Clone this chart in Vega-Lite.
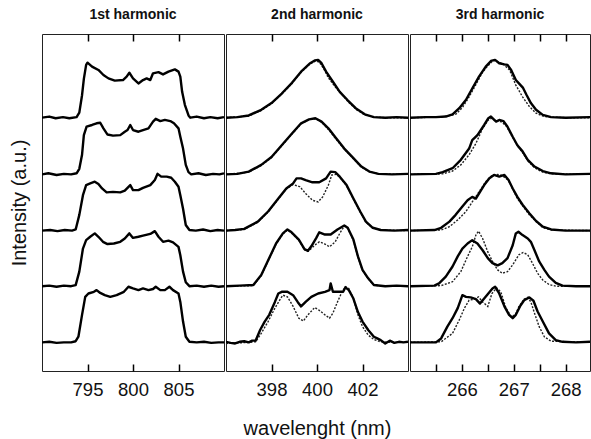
{
"$schema": "https://vega.github.io/schema/vega-lite/v6.json",
"padding": {"left": 8, "top": 7, "right": 0, "bottom": 0},
"spacing": 0,
"config": {
  "font": "Liberation Sans",
  "view": {"stroke": "#222", "strokeWidth": 1},
  "axis": {"grid": false, "domain": false, "ticks": true, "tickSize": 7, "tickWidth": 1.5, "tickColor": "#000", "tickOpacity": 1, "labelFont": "Liberation Sans", "labelFontSize": 18.5, "labelColor": "#111", "titleFont": "Liberation Sans", "titleFontWeight": "normal", "titleFontSize": 20, "titleColor": "#111", "labelOverlap": false, "labelFlush": false},
  "title": {"font": "Liberation Sans", "fontSize": 14, "fontWeight": "bold", "color": "#111", "offset": 11}
},
"datasets": {
"p1": [
{"t":1,"x":790,"y":4.51},{"t":1,"x":790.8,"y":4.53},{"t":1,"x":791.5,"y":4.5},{"t":1,"x":792.3,"y":4.52},{"t":1,"x":793,"y":4.5},{"t":1,"x":793.8,"y":4.52},{"t":1,"x":794.1,"y":4.6},{"t":1,"x":794.4,"y":4.91},{"t":1,"x":794.6,"y":5.2},{"t":1,"x":794.85,"y":5.45},{"t":1,"x":795,"y":5.49},{"t":1,"x":795.5,"y":5.42},{"t":1,"x":796.2,"y":5.36},{"t":1,"x":796.75,"y":5.27},{"t":1,"x":797.3,"y":5.21},{"t":1,"x":798,"y":5.17},{"t":1,"x":798.9,"y":5.18},{"t":1,"x":799.3,"y":5.24},{"t":1,"x":799.6,"y":5.31},{"t":1,"x":800,"y":5.21},{"t":1,"x":800.6,"y":5.12},{"t":1,"x":801.1,"y":5.18},{"t":1,"x":801.5,"y":5.21},{"t":1,"x":801.9,"y":5.18},{"t":1,"x":802.2,"y":5.3},{"t":1,"x":802.8,"y":5.32},{"t":1,"x":803.3,"y":5.28},{"t":1,"x":803.9,"y":5.33},{"t":1,"x":804.6,"y":5.37},{"t":1,"x":805,"y":5.33},{"t":1,"x":805.2,"y":5.24},{"t":1,"x":805.4,"y":4.97},{"t":1,"x":805.7,"y":4.74},{"t":1,"x":806.1,"y":4.55},{"t":1,"x":806.3,"y":4.51},{"t":1,"x":807,"y":4.53},{"t":1,"x":807.8,"y":4.5},{"t":1,"x":808.5,"y":4.52},{"t":1,"x":809.3,"y":4.5},{"t":1,"x":810,"y":4.52},
{"t":2,"x":790,"y":3.5},{"t":2,"x":790.7,"y":3.52},{"t":2,"x":791.6,"y":3.49},{"t":2,"x":792.4,"y":3.51},{"t":2,"x":793.2,"y":3.5},{"t":2,"x":793.8,"y":3.52},{"t":2,"x":794.1,"y":3.6},{"t":2,"x":794.4,"y":3.85},{"t":2,"x":794.6,"y":4.2},{"t":2,"x":794.9,"y":4.35},{"t":2,"x":795.5,"y":4.38},{"t":2,"x":796,"y":4.41},{"t":2,"x":796.4,"y":4.42},{"t":2,"x":796.75,"y":4.32},{"t":2,"x":797.2,"y":4.21},{"t":2,"x":797.8,"y":4.19},{"t":2,"x":798.6,"y":4.2},{"t":2,"x":799.1,"y":4.26},{"t":2,"x":799.4,"y":4.29},{"t":2,"x":799.7,"y":4.38},{"t":2,"x":800,"y":4.29},{"t":2,"x":800.6,"y":4.26},{"t":2,"x":801.1,"y":4.29},{"t":2,"x":801.7,"y":4.32},{"t":2,"x":802.2,"y":4.44},{"t":2,"x":802.5,"y":4.49},{"t":2,"x":803,"y":4.45},{"t":2,"x":803.5,"y":4.47},{"t":2,"x":804.1,"y":4.45},{"t":2,"x":804.5,"y":4.41},{"t":2,"x":805,"y":4.32},{"t":2,"x":805.2,"y":4.17},{"t":2,"x":805.5,"y":3.96},{"t":2,"x":805.8,"y":3.67},{"t":2,"x":806.1,"y":3.54},{"t":2,"x":806.4,"y":3.5},{"t":2,"x":807.2,"y":3.52},{"t":2,"x":808,"y":3.49},{"t":2,"x":808.8,"y":3.51},{"t":2,"x":809.5,"y":3.5},{"t":2,"x":810,"y":3.52},
{"t":3,"x":790,"y":2.5},{"t":3,"x":790.9,"y":2.51},{"t":3,"x":791.7,"y":2.49},{"t":3,"x":792.5,"y":2.51},{"t":3,"x":793.3,"y":2.5},{"t":3,"x":793.7,"y":2.52},{"t":3,"x":794.1,"y":2.78},{"t":3,"x":794.5,"y":3.13},{"t":3,"x":794.85,"y":3.31},{"t":3,"x":795.3,"y":3.34},{"t":3,"x":795.8,"y":3.37},{"t":3,"x":796.2,"y":3.33},{"t":3,"x":796.6,"y":3.25},{"t":3,"x":797.1,"y":3.18},{"t":3,"x":797.8,"y":3.19},{"t":3,"x":798.6,"y":3.18},{"t":3,"x":799.1,"y":3.21},{"t":3,"x":799.7,"y":3.31},{"t":3,"x":800,"y":3.22},{"t":3,"x":800.6,"y":3.22},{"t":3,"x":801.1,"y":3.26},{"t":3,"x":801.9,"y":3.31},{"t":3,"x":802.4,"y":3.4},{"t":3,"x":802.7,"y":3.51},{"t":3,"x":803.1,"y":3.46},{"t":3,"x":803.7,"y":3.46},{"t":3,"x":804.2,"y":3.44},{"t":3,"x":804.6,"y":3.37},{"t":3,"x":805,"y":3.28},{"t":3,"x":805.2,"y":3.13},{"t":3,"x":805.5,"y":2.89},{"t":3,"x":805.8,"y":2.6},{"t":3,"x":806.2,"y":2.51},{"t":3,"x":806.9,"y":2.5},{"t":3,"x":807.7,"y":2.52},{"t":3,"x":808.5,"y":2.49},{"t":3,"x":809.3,"y":2.51},{"t":3,"x":810,"y":2.5},
{"t":4,"x":790,"y":1.51},{"t":4,"x":790.8,"y":1.52},{"t":4,"x":791.6,"y":1.5},{"t":4,"x":792.4,"y":1.52},{"t":4,"x":793.2,"y":1.51},{"t":4,"x":793.7,"y":1.53},{"t":4,"x":794.1,"y":1.77},{"t":4,"x":794.5,"y":2.18},{"t":4,"x":794.85,"y":2.33},{"t":4,"x":795.3,"y":2.39},{"t":4,"x":795.8,"y":2.45},{"t":4,"x":796.2,"y":2.39},{"t":4,"x":796.7,"y":2.3},{"t":4,"x":797.2,"y":2.26},{"t":4,"x":797.9,"y":2.27},{"t":4,"x":798.6,"y":2.3},{"t":4,"x":799.1,"y":2.36},{"t":4,"x":799.6,"y":2.45},{"t":4,"x":800,"y":2.37},{"t":4,"x":800.6,"y":2.39},{"t":4,"x":801.1,"y":2.41},{"t":4,"x":801.9,"y":2.44},{"t":4,"x":802.4,"y":2.49},{"t":4,"x":802.8,"y":2.39},{"t":4,"x":803.3,"y":2.3},{"t":4,"x":803.9,"y":2.32},{"t":4,"x":804.4,"y":2.29},{"t":4,"x":805,"y":2.21},{"t":4,"x":805.2,"y":2.06},{"t":4,"x":805.5,"y":1.77},{"t":4,"x":805.8,"y":1.58},{"t":4,"x":806.2,"y":1.51},{"t":4,"x":807,"y":1.52},{"t":4,"x":807.8,"y":1.5},{"t":4,"x":808.6,"y":1.52},{"t":4,"x":809.4,"y":1.5},{"t":4,"x":810,"y":1.51},
{"t":5,"x":790,"y":0.51},{"t":5,"x":790.8,"y":0.52},{"t":5,"x":791.6,"y":0.5},{"t":5,"x":792.4,"y":0.51},{"t":5,"x":793.2,"y":0.51},{"t":5,"x":793.7,"y":0.53},{"t":5,"x":794,"y":0.61},{"t":5,"x":794.4,"y":1},{"t":5,"x":794.75,"y":1.32},{"t":5,"x":795.1,"y":1.38},{"t":5,"x":795.7,"y":1.41},{"t":5,"x":796,"y":1.44},{"t":5,"x":796.4,"y":1.39},{"t":5,"x":796.9,"y":1.35},{"t":5,"x":797.5,"y":1.32},{"t":5,"x":798.2,"y":1.35},{"t":5,"x":799,"y":1.41},{"t":5,"x":799.5,"y":1.5},{"t":5,"x":800,"y":1.47},{"t":5,"x":800.6,"y":1.44},{"t":5,"x":801.1,"y":1.47},{"t":5,"x":801.7,"y":1.44},{"t":5,"x":802.2,"y":1.46},{"t":5,"x":802.5,"y":1.5},{"t":5,"x":803,"y":1.44},{"t":5,"x":803.5,"y":1.44},{"t":5,"x":804,"y":1.5},{"t":5,"x":804.4,"y":1.44},{"t":5,"x":805,"y":1.38},{"t":5,"x":805.2,"y":1.23},{"t":5,"x":805.5,"y":0.88},{"t":5,"x":805.8,"y":0.61},{"t":5,"x":806.2,"y":0.52},{"t":5,"x":807,"y":0.51},{"t":5,"x":807.8,"y":0.52},{"t":5,"x":808.6,"y":0.5},{"t":5,"x":809.4,"y":0.51},{"t":5,"x":810,"y":0.51}
],
"p2s": [
{"t":1,"x":396,"y":4.51},{"t":1,"x":396.5,"y":4.52},{"t":1,"x":397,"y":4.55},{"t":1,"x":397.55,"y":4.65},{"t":1,"x":398,"y":4.77},{"t":1,"x":398.45,"y":4.94},{"t":1,"x":398.9,"y":5.13},{"t":1,"x":399.3,"y":5.33},{"t":1,"x":399.7,"y":5.48},{"t":1,"x":399.9,"y":5.53},{"t":1,"x":400.05,"y":5.54},{"t":1,"x":400.2,"y":5.48},{"t":1,"x":400.4,"y":5.33},{"t":1,"x":400.7,"y":5.15},{"t":1,"x":401,"y":4.97},{"t":1,"x":401.35,"y":4.82},{"t":1,"x":401.7,"y":4.68},{"t":1,"x":402.1,"y":4.57},{"t":1,"x":402.5,"y":4.52},{"t":1,"x":403,"y":4.51},{"t":1,"x":403.5,"y":4.52},{"t":1,"x":404,"y":4.51},
{"t":2,"x":396,"y":3.5},{"t":2,"x":396.5,"y":3.51},{"t":2,"x":397,"y":3.55},{"t":2,"x":397.55,"y":3.67},{"t":2,"x":398,"y":3.81},{"t":2,"x":398.45,"y":4.02},{"t":2,"x":398.9,"y":4.23},{"t":2,"x":399.3,"y":4.41},{"t":2,"x":399.65,"y":4.48},{"t":2,"x":399.93,"y":4.5},{"t":2,"x":400.2,"y":4.44},{"t":2,"x":400.5,"y":4.32},{"t":2,"x":400.85,"y":4.14},{"t":2,"x":401.2,"y":3.96},{"t":2,"x":401.6,"y":3.79},{"t":2,"x":401.95,"y":3.64},{"t":2,"x":402.3,"y":3.55},{"t":2,"x":402.7,"y":3.51},{"t":2,"x":403.3,"y":3.5},{"t":2,"x":404,"y":3.51},
{"t":3,"x":396,"y":2.5},{"t":3,"x":396.4,"y":2.51},{"t":3,"x":396.8,"y":2.53},{"t":3,"x":397.4,"y":2.66},{"t":3,"x":397.85,"y":2.84},{"t":3,"x":398.3,"y":3.07},{"t":3,"x":398.65,"y":3.25},{"t":3,"x":398.95,"y":3.34},{"t":3,"x":399.1,"y":3.43},{"t":3,"x":399.3,"y":3.43},{"t":3,"x":399.5,"y":3.4},{"t":3,"x":399.8,"y":3.36},{"t":3,"x":400.1,"y":3.36},{"t":3,"x":400.4,"y":3.43},{"t":3,"x":400.6,"y":3.55},{"t":3,"x":400.8,"y":3.54},{"t":3,"x":401,"y":3.46},{"t":3,"x":401.3,"y":3.31},{"t":3,"x":401.6,"y":3.07},{"t":3,"x":401.9,"y":2.84},{"t":3,"x":402.15,"y":2.66},{"t":3,"x":402.45,"y":2.55},{"t":3,"x":402.8,"y":2.51},{"t":3,"x":403.4,"y":2.5},{"t":3,"x":404,"y":2.51},
{"t":4,"x":396,"y":1.51},{"t":4,"x":396.6,"y":1.52},{"t":4,"x":397.2,"y":1.53},{"t":4,"x":397.55,"y":1.71},{"t":4,"x":397.9,"y":2.01},{"t":4,"x":398.2,"y":2.27},{"t":4,"x":398.5,"y":2.45},{"t":4,"x":398.7,"y":2.52},{"t":4,"x":398.85,"y":2.48},{"t":4,"x":399.2,"y":2.34},{"t":4,"x":399.45,"y":2.17},{"t":4,"x":399.6,"y":2.14},{"t":4,"x":399.75,"y":2.22},{"t":4,"x":399.97,"y":2.37},{"t":4,"x":400.1,"y":2.47},{"t":4,"x":400.35,"y":2.43},{"t":4,"x":400.6,"y":2.43},{"t":4,"x":400.9,"y":2.52},{"t":4,"x":401.2,"y":2.59},{"t":4,"x":401.35,"y":2.55},{"t":4,"x":401.6,"y":2.34},{"t":4,"x":401.8,"y":2.04},{"t":4,"x":402,"y":1.8},{"t":4,"x":402.25,"y":1.65},{"t":4,"x":402.5,"y":1.53},{"t":4,"x":403,"y":1.51},{"t":4,"x":403.5,"y":1.52},{"t":4,"x":404,"y":1.51},
{"t":5,"x":396,"y":0.52},{"t":5,"x":396.2,"y":0.5},{"t":5,"x":396.4,"y":0.49},{"t":5,"x":396.6,"y":0.52},{"t":5,"x":396.8,"y":0.53},{"t":5,"x":397,"y":0.51},{"t":5,"x":397.15,"y":0.54},{"t":5,"x":397.3,"y":0.54},{"t":5,"x":397.5,"y":0.73},{"t":5,"x":397.7,"y":0.88},{"t":5,"x":397.9,"y":1},{"t":5,"x":398.15,"y":1.23},{"t":5,"x":398.3,"y":1.38},{"t":5,"x":398.45,"y":1.41},{"t":5,"x":398.7,"y":1.41},{"t":5,"x":398.95,"y":1.35},{"t":5,"x":399.15,"y":1.23},{"t":5,"x":399.3,"y":1.15},{"t":5,"x":399.5,"y":1.23},{"t":5,"x":399.75,"y":1.32},{"t":5,"x":400.05,"y":1.38},{"t":5,"x":400.35,"y":1.41},{"t":5,"x":400.55,"y":1.44},{"t":5,"x":400.6,"y":1.56},{"t":5,"x":400.7,"y":1.41},{"t":5,"x":400.9,"y":1.41},{"t":5,"x":401.15,"y":1.41},{"t":5,"x":401.25,"y":1.49},{"t":5,"x":401.4,"y":1.44},{"t":5,"x":401.6,"y":1.29},{"t":5,"x":401.8,"y":1.05},{"t":5,"x":402,"y":0.88},{"t":5,"x":402.25,"y":0.73},{"t":5,"x":402.5,"y":0.61},{"t":5,"x":402.65,"y":0.58},{"t":5,"x":402.8,"y":0.55},{"t":5,"x":403,"y":0.49},{"t":5,"x":403.2,"y":0.54},{"t":5,"x":403.4,"y":0.5},{"t":5,"x":403.6,"y":0.52},{"t":5,"x":403.8,"y":0.51},{"t":5,"x":404,"y":0.52}
],
"p2d": [
{"t":1,"x":396,"y":4.51},{"t":1,"x":397,"y":4.54},{"t":1,"x":397.55,"y":4.64},{"t":1,"x":398,"y":4.76},{"t":1,"x":398.45,"y":4.93},{"t":1,"x":398.9,"y":5.12},{"t":1,"x":399.3,"y":5.32},{"t":1,"x":399.7,"y":5.47},{"t":1,"x":399.95,"y":5.52},{"t":1,"x":400.1,"y":5.5},{"t":1,"x":400.3,"y":5.38},{"t":1,"x":400.5,"y":5.22},{"t":1,"x":400.8,"y":5.06},{"t":1,"x":401.1,"y":4.92},{"t":1,"x":401.4,"y":4.78},{"t":1,"x":401.75,"y":4.65},{"t":1,"x":402.1,"y":4.56},{"t":1,"x":402.5,"y":4.52},{"t":1,"x":403,"y":4.51},{"t":1,"x":404,"y":4.51},
{"t":2,"x":396,"y":3.5},{"t":2,"x":397,"y":3.54},{"t":2,"x":397.55,"y":3.66},{"t":2,"x":398,"y":3.8},{"t":2,"x":398.45,"y":4.01},{"t":2,"x":398.9,"y":4.22},{"t":2,"x":399.3,"y":4.4},{"t":2,"x":399.65,"y":4.48},{"t":2,"x":399.95,"y":4.49},{"t":2,"x":400.2,"y":4.43},{"t":2,"x":400.5,"y":4.3},{"t":2,"x":400.85,"y":4.12},{"t":2,"x":401.2,"y":3.95},{"t":2,"x":401.6,"y":3.78},{"t":2,"x":401.95,"y":3.63},{"t":2,"x":402.3,"y":3.55},{"t":2,"x":402.7,"y":3.51},{"t":2,"x":404,"y":3.5},
{"t":3,"x":396,"y":2.5},{"t":3,"x":396.8,"y":2.52},{"t":3,"x":397.4,"y":2.65},{"t":3,"x":397.85,"y":2.83},{"t":3,"x":398.3,"y":3.06},{"t":3,"x":398.65,"y":3.24},{"t":3,"x":398.95,"y":3.32},{"t":3,"x":399.25,"y":3.28},{"t":3,"x":399.5,"y":3.16},{"t":3,"x":399.8,"y":3.04},{"t":3,"x":400.05,"y":3.01},{"t":3,"x":400.25,"y":3.1},{"t":3,"x":400.5,"y":3.31},{"t":3,"x":400.65,"y":3.49},{"t":3,"x":400.85,"y":3.5},{"t":3,"x":401,"y":3.45},{"t":3,"x":401.3,"y":3.3},{"t":3,"x":401.6,"y":3.06},{"t":3,"x":401.9,"y":2.83},{"t":3,"x":402.15,"y":2.65},{"t":3,"x":402.45,"y":2.55},{"t":3,"x":402.8,"y":2.51},{"t":3,"x":404,"y":2.5},
{"t":4,"x":396,"y":1.51},{"t":4,"x":397.2,"y":1.52},{"t":4,"x":397.55,"y":1.7},{"t":4,"x":397.9,"y":2},{"t":4,"x":398.2,"y":2.26},{"t":4,"x":398.5,"y":2.44},{"t":4,"x":398.7,"y":2.51},{"t":4,"x":398.85,"y":2.47},{"t":4,"x":399.2,"y":2.33},{"t":4,"x":399.45,"y":2.16},{"t":4,"x":399.6,"y":2.13},{"t":4,"x":399.75,"y":2.18},{"t":4,"x":399.9,"y":2.24},{"t":4,"x":400.1,"y":2.3},{"t":4,"x":400.35,"y":2.26},{"t":4,"x":400.55,"y":2.21},{"t":4,"x":400.8,"y":2.3},{"t":4,"x":401,"y":2.45},{"t":4,"x":401.2,"y":2.58},{"t":4,"x":401.35,"y":2.54},{"t":4,"x":401.6,"y":2.33},{"t":4,"x":401.8,"y":2.03},{"t":4,"x":402,"y":1.79},{"t":4,"x":402.25,"y":1.64},{"t":4,"x":402.5,"y":1.53},{"t":4,"x":403,"y":1.51},{"t":4,"x":404,"y":1.51},
{"t":5,"x":396,"y":0.49},{"t":5,"x":396.5,"y":0.5},{"t":5,"x":397,"y":0.51},{"t":5,"x":397.3,"y":0.52},{"t":5,"x":397.55,"y":0.67},{"t":5,"x":397.85,"y":0.88},{"t":5,"x":398.15,"y":1.12},{"t":5,"x":398.4,"y":1.29},{"t":5,"x":398.5,"y":1.35},{"t":5,"x":398.7,"y":1.32},{"t":5,"x":398.95,"y":1.15},{"t":5,"x":399.2,"y":0.94},{"t":5,"x":399.4,"y":0.89},{"t":5,"x":399.6,"y":1},{"t":5,"x":399.9,"y":1.13},{"t":5,"x":400.1,"y":1.08},{"t":5,"x":400.35,"y":1},{"t":5,"x":400.55,"y":0.94},{"t":5,"x":400.7,"y":1.03},{"t":5,"x":400.9,"y":1.23},{"t":5,"x":401.1,"y":1.41},{"t":5,"x":401.25,"y":1.5},{"t":5,"x":401.4,"y":1.47},{"t":5,"x":401.6,"y":1.29},{"t":5,"x":401.8,"y":1},{"t":5,"x":402,"y":0.79},{"t":5,"x":402.25,"y":0.64},{"t":5,"x":402.5,"y":0.56},{"t":5,"x":402.8,"y":0.52},{"t":5,"x":403.3,"y":0.51},{"t":5,"x":404,"y":0.51}
],
"p3s": [
{"t":1,"x":265,"y":4.51},{"t":1,"x":265.3,"y":4.52},{"t":1,"x":265.5,"y":4.52},{"t":1,"x":265.69,"y":4.53},{"t":1,"x":265.82,"y":4.57},{"t":1,"x":265.95,"y":4.68},{"t":1,"x":266.08,"y":4.83},{"t":1,"x":266.2,"y":5.03},{"t":1,"x":266.33,"y":5.24},{"t":1,"x":266.46,"y":5.42},{"t":1,"x":266.56,"y":5.52},{"t":1,"x":266.64,"y":5.54},{"t":1,"x":266.72,"y":5.48},{"t":1,"x":266.82,"y":5.46},{"t":1,"x":266.88,"y":5.45},{"t":1,"x":266.95,"y":5.36},{"t":1,"x":267.04,"y":5.18},{"t":1,"x":267.1,"y":5.12},{"t":1,"x":267.18,"y":5.04},{"t":1,"x":267.25,"y":4.91},{"t":1,"x":267.33,"y":4.77},{"t":1,"x":267.43,"y":4.65},{"t":1,"x":267.56,"y":4.56},{"t":1,"x":267.72,"y":4.52},{"t":1,"x":268,"y":4.51},{"t":1,"x":268.47,"y":4.52},
{"t":2,"x":265,"y":3.5},{"t":2,"x":265.5,"y":3.51},{"t":2,"x":265.63,"y":3.54},{"t":2,"x":265.82,"y":3.61},{"t":2,"x":265.98,"y":3.76},{"t":2,"x":266.14,"y":3.96},{"t":2,"x":266.2,"y":4.11},{"t":2,"x":266.3,"y":4.2},{"t":2,"x":266.43,"y":4.38},{"t":2,"x":266.51,"y":4.5},{"t":2,"x":266.56,"y":4.53},{"t":2,"x":266.66,"y":4.44},{"t":2,"x":266.72,"y":4.47},{"t":2,"x":266.8,"y":4.45},{"t":2,"x":266.88,"y":4.35},{"t":2,"x":266.98,"y":4.17},{"t":2,"x":267.07,"y":4.02},{"t":2,"x":267.17,"y":3.91},{"t":2,"x":267.27,"y":3.76},{"t":2,"x":267.4,"y":3.64},{"t":2,"x":267.56,"y":3.56},{"t":2,"x":267.72,"y":3.52},{"t":2,"x":268,"y":3.5},{"t":2,"x":268.47,"y":3.51},
{"t":3,"x":265,"y":2.5},{"t":3,"x":265.47,"y":2.51},{"t":3,"x":265.6,"y":2.55},{"t":3,"x":265.76,"y":2.66},{"t":3,"x":265.88,"y":2.78},{"t":3,"x":266.01,"y":2.93},{"t":3,"x":266.11,"y":3.04},{"t":3,"x":266.2,"y":3.1},{"t":3,"x":266.27,"y":3.07},{"t":3,"x":266.35,"y":3.19},{"t":3,"x":266.43,"y":3.31},{"t":3,"x":266.53,"y":3.43},{"t":3,"x":266.62,"y":3.49},{"t":3,"x":266.72,"y":3.46},{"t":3,"x":266.82,"y":3.49},{"t":3,"x":266.9,"y":3.4},{"t":3,"x":266.98,"y":3.25},{"t":3,"x":267.07,"y":3.1},{"t":3,"x":267.17,"y":2.96},{"t":3,"x":267.3,"y":2.81},{"t":3,"x":267.43,"y":2.67},{"t":3,"x":267.56,"y":2.57},{"t":3,"x":267.72,"y":2.52},{"t":3,"x":268,"y":2.5},{"t":3,"x":268.47,"y":2.5},
{"t":4,"x":265,"y":1.51},{"t":4,"x":265.47,"y":1.52},{"t":4,"x":265.56,"y":1.56},{"t":4,"x":265.69,"y":1.68},{"t":4,"x":265.82,"y":1.86},{"t":4,"x":265.92,"y":2.04},{"t":4,"x":266.01,"y":2.18},{"t":4,"x":266.11,"y":2.27},{"t":4,"x":266.2,"y":2.33},{"t":4,"x":266.3,"y":2.27},{"t":4,"x":266.4,"y":2.15},{"t":4,"x":266.5,"y":2.01},{"t":4,"x":266.59,"y":1.92},{"t":4,"x":266.69,"y":1.88},{"t":4,"x":266.78,"y":1.92},{"t":4,"x":266.88,"y":2.01},{"t":4,"x":266.98,"y":2.24},{"t":4,"x":267.04,"y":2.45},{"t":4,"x":267.09,"y":2.48},{"t":4,"x":267.17,"y":2.42},{"t":4,"x":267.27,"y":2.36},{"t":4,"x":267.33,"y":2.3},{"t":4,"x":267.4,"y":2.15},{"t":4,"x":267.49,"y":1.95},{"t":4,"x":267.59,"y":1.8},{"t":4,"x":267.68,"y":1.68},{"t":4,"x":267.81,"y":1.57},{"t":4,"x":267.94,"y":1.52},{"t":4,"x":268.2,"y":1.51},{"t":4,"x":268.47,"y":1.51},
{"t":5,"x":265,"y":0.51},{"t":5,"x":265.5,"y":0.51},{"t":5,"x":265.6,"y":0.58},{"t":5,"x":265.72,"y":0.79},{"t":5,"x":265.82,"y":0.94},{"t":5,"x":265.92,"y":1.12},{"t":5,"x":266.01,"y":1.35},{"t":5,"x":266.08,"y":1.32},{"t":5,"x":266.17,"y":1.31},{"t":5,"x":266.27,"y":1.28},{"t":5,"x":266.35,"y":1.2},{"t":5,"x":266.43,"y":1.29},{"t":5,"x":266.51,"y":1.38},{"t":5,"x":266.59,"y":1.47},{"t":5,"x":266.64,"y":1.5},{"t":5,"x":266.72,"y":1.38},{"t":5,"x":266.82,"y":1.15},{"t":5,"x":266.91,"y":1},{"t":5,"x":266.98,"y":0.94},{"t":5,"x":267.04,"y":1},{"t":5,"x":267.12,"y":1.15},{"t":5,"x":267.2,"y":1.26},{"t":5,"x":267.3,"y":1.31},{"t":5,"x":267.38,"y":1.25},{"t":5,"x":267.46,"y":1.06},{"t":5,"x":267.56,"y":0.88},{"t":5,"x":267.68,"y":0.67},{"t":5,"x":267.81,"y":0.55},{"t":5,"x":267.94,"y":0.52},{"t":5,"x":268.2,"y":0.51},{"t":5,"x":268.47,"y":0.52}
],
"p3d": [
{"t":1,"x":265,"y":4.51},{"t":1,"x":265.6,"y":4.52},{"t":1,"x":265.88,"y":4.57},{"t":1,"x":266.01,"y":4.69},{"t":1,"x":266.14,"y":4.88},{"t":1,"x":266.27,"y":5.1},{"t":1,"x":266.4,"y":5.32},{"t":1,"x":266.48,"y":5.41},{"t":1,"x":266.6,"y":5.53},{"t":1,"x":266.68,"y":5.51},{"t":1,"x":266.8,"y":5.46},{"t":1,"x":266.92,"y":5.36},{"t":1,"x":267.04,"y":5.09},{"t":1,"x":267.17,"y":4.88},{"t":1,"x":267.3,"y":4.71},{"t":1,"x":267.43,"y":4.59},{"t":1,"x":267.59,"y":4.53},{"t":1,"x":268,"y":4.51},{"t":1,"x":268.47,"y":4.51},
{"t":2,"x":265,"y":3.5},{"t":2,"x":265.63,"y":3.51},{"t":2,"x":265.82,"y":3.56},{"t":2,"x":265.98,"y":3.67},{"t":2,"x":266.14,"y":3.85},{"t":2,"x":266.27,"y":4.05},{"t":2,"x":266.4,"y":4.32},{"t":2,"x":266.51,"y":4.47},{"t":2,"x":266.57,"y":4.5},{"t":2,"x":266.67,"y":4.45},{"t":2,"x":266.75,"y":4.44},{"t":2,"x":266.85,"y":4.37},{"t":2,"x":266.98,"y":4.16},{"t":2,"x":267.07,"y":4.01},{"t":2,"x":267.17,"y":3.89},{"t":2,"x":267.27,"y":3.74},{"t":2,"x":267.4,"y":3.62},{"t":2,"x":267.56,"y":3.54},{"t":2,"x":267.72,"y":3.51},{"t":2,"x":268.47,"y":3.5},
{"t":3,"x":265,"y":2.5},{"t":3,"x":265.6,"y":2.51},{"t":3,"x":265.76,"y":2.57},{"t":3,"x":265.92,"y":2.69},{"t":3,"x":266.08,"y":2.84},{"t":3,"x":266.2,"y":3.01},{"t":3,"x":266.33,"y":3.19},{"t":3,"x":266.46,"y":3.37},{"t":3,"x":266.58,"y":3.48},{"t":3,"x":266.69,"y":3.5},{"t":3,"x":266.78,"y":3.48},{"t":3,"x":266.9,"y":3.39},{"t":3,"x":267.07,"y":3.07},{"t":3,"x":267.3,"y":2.78},{"t":3,"x":267.56,"y":2.55},{"t":3,"x":267.75,"y":2.51},{"t":3,"x":268.47,"y":2.5},
{"t":4,"x":265,"y":1.51},{"t":4,"x":265.6,"y":1.52},{"t":4,"x":265.82,"y":1.59},{"t":4,"x":265.98,"y":1.77},{"t":4,"x":266.11,"y":2.04},{"t":4,"x":266.2,"y":2.21},{"t":4,"x":266.27,"y":2.42},{"t":4,"x":266.32,"y":2.49},{"t":4,"x":266.4,"y":2.36},{"t":4,"x":266.5,"y":2.12},{"t":4,"x":266.59,"y":1.95},{"t":4,"x":266.69,"y":1.8},{"t":4,"x":266.78,"y":1.74},{"t":4,"x":266.88,"y":1.77},{"t":4,"x":266.98,"y":1.89},{"t":4,"x":267.1,"y":2.07},{"t":4,"x":267.18,"y":2.11},{"t":4,"x":267.27,"y":2.07},{"t":4,"x":267.36,"y":1.92},{"t":4,"x":267.46,"y":1.74},{"t":4,"x":267.56,"y":1.62},{"t":4,"x":267.68,"y":1.54},{"t":4,"x":267.81,"y":1.51},{"t":4,"x":268.47,"y":1.51},
{"t":5,"x":265,"y":0.51},{"t":5,"x":265.6,"y":0.52},{"t":5,"x":265.82,"y":0.67},{"t":5,"x":265.95,"y":0.91},{"t":5,"x":266.05,"y":1.12},{"t":5,"x":266.14,"y":1.26},{"t":5,"x":266.24,"y":1.28},{"t":5,"x":266.32,"y":1.32},{"t":5,"x":266.4,"y":1.23},{"t":5,"x":266.5,"y":1.15},{"t":5,"x":266.58,"y":1.38},{"t":5,"x":266.67,"y":1.48},{"t":5,"x":266.75,"y":1.41},{"t":5,"x":266.85,"y":1.12},{"t":5,"x":266.95,"y":0.97},{"t":5,"x":267.03,"y":1},{"t":5,"x":267.1,"y":1.15},{"t":5,"x":267.2,"y":1.28},{"t":5,"x":267.27,"y":1.31},{"t":5,"x":267.33,"y":1.23},{"t":5,"x":267.4,"y":1.03},{"t":5,"x":267.49,"y":0.79},{"t":5,"x":267.59,"y":0.61},{"t":5,"x":267.72,"y":0.53},{"t":5,"x":268.47,"y":0.51}
]
},
"hconcat": [
{
  "width": 182, "height": 337,
  "title": {"text": "1st harmonic"},
  "encoding": {
    "y": {"field": "y", "type": "quantitative", "scale": {"domain": [0, 6], "nice": false, "zero": false}, "axis": {"title": "Intensity (a.u.)", "labels": false, "ticks": false, "domain": false, "titlePadding": 13}},
    "detail": {"field": "t", "type": "nominal"}
  },
  "layer": [
    {"data": {"name": "p1"}, "mark": {"type": "line", "opacity": 0},
     "encoding": {"x": {"field": "x", "type": "quantitative", "scale": {"domain": [790, 810], "nice": false, "zero": false}, "axis": {"orient": "top", "values": [795, 800, 805], "offset": -7, "labels": false, "title": null, "zindex": 3}}}},
    {"data": {"name": "p1"}, "mark": {"type": "line", "color": "#000", "strokeWidth": 2.4, "strokeJoin": "round", "clip": true},
     "encoding": {"x": {"field": "x", "type": "quantitative", "scale": {"domain": [790, 810], "nice": false, "zero": false}, "axis": {"orient": "bottom", "values": [795, 800, 805], "offset": -7, "labelPadding": 9, "title": null, "zindex": 3}}}}
  ],
  "resolve": {"axis": {"x": "independent"}}
},
{
  "width": 182, "height": 337,
  "title": {"text": "2nd harmonic"},
  "encoding": {
    "y": {"field": "y", "type": "quantitative", "scale": {"domain": [0, 6], "nice": false, "zero": false}, "axis": null},
    "detail": {"field": "t", "type": "nominal"}
  },
  "layer": [
    {"data": {"name": "p2d"}, "mark": {"type": "line", "color": "#222", "strokeWidth": 1.4, "strokeDash": [2, 1.5], "clip": true},
     "encoding": {"x": {"field": "x", "type": "quantitative", "scale": {"domain": [396, 404], "nice": false, "zero": false}, "axis": {"orient": "top", "values": [398, 400, 402], "offset": -7, "labels": false, "title": null, "zindex": 3}}}},
    {"data": {"name": "p2s"}, "mark": {"type": "line", "color": "#000", "strokeWidth": 2.4, "strokeJoin": "round", "clip": true},
     "encoding": {"x": {"field": "x", "type": "quantitative", "scale": {"domain": [396, 404], "nice": false, "zero": false}, "axis": {"orient": "bottom", "values": [398, 400, 402], "offset": -7, "labelPadding": 9, "title": "wavelenght (nm)", "titlePadding": 20, "zindex": 3}}}}
  ],
  "resolve": {"axis": {"x": "independent"}}
},
{
  "width": 180, "height": 337,
  "title": {"text": "3rd harmonic"},
  "encoding": {
    "y": {"field": "y", "type": "quantitative", "scale": {"domain": [0, 6], "nice": false, "zero": false}, "axis": null},
    "detail": {"field": "t", "type": "nominal"}
  },
  "layer": [
    {"data": {"name": "p3d"}, "mark": {"type": "line", "color": "#222", "strokeWidth": 1.4, "strokeDash": [2, 1.5], "clip": true},
     "encoding": {"x": {"field": "x", "type": "quantitative", "scale": {"domain": [265, 268.47], "nice": false, "zero": false}, "axis": {"orient": "top", "values": [265.5, 266, 266.5, 267, 267.5, 268], "offset": -7, "labels": false, "title": null, "zindex": 3}}}},
    {"data": {"name": "p3s"}, "mark": {"type": "line", "color": "#000", "strokeWidth": 2.4, "strokeJoin": "round", "clip": true},
     "encoding": {"x": {"field": "x", "type": "quantitative", "scale": {"domain": [265, 268.47], "nice": false, "zero": false}, "axis": {"orient": "bottom", "values": [265.5, 266, 266.5, 267, 267.5, 268], "offset": -7, "labelPadding": 9, "format": ".0f", "labelExpr": "datum.value % 1 === 0 ? datum.label : ''", "title": null, "zindex": 3}}}}
  ],
  "resolve": {"axis": {"x": "independent"}}
}
]
}
